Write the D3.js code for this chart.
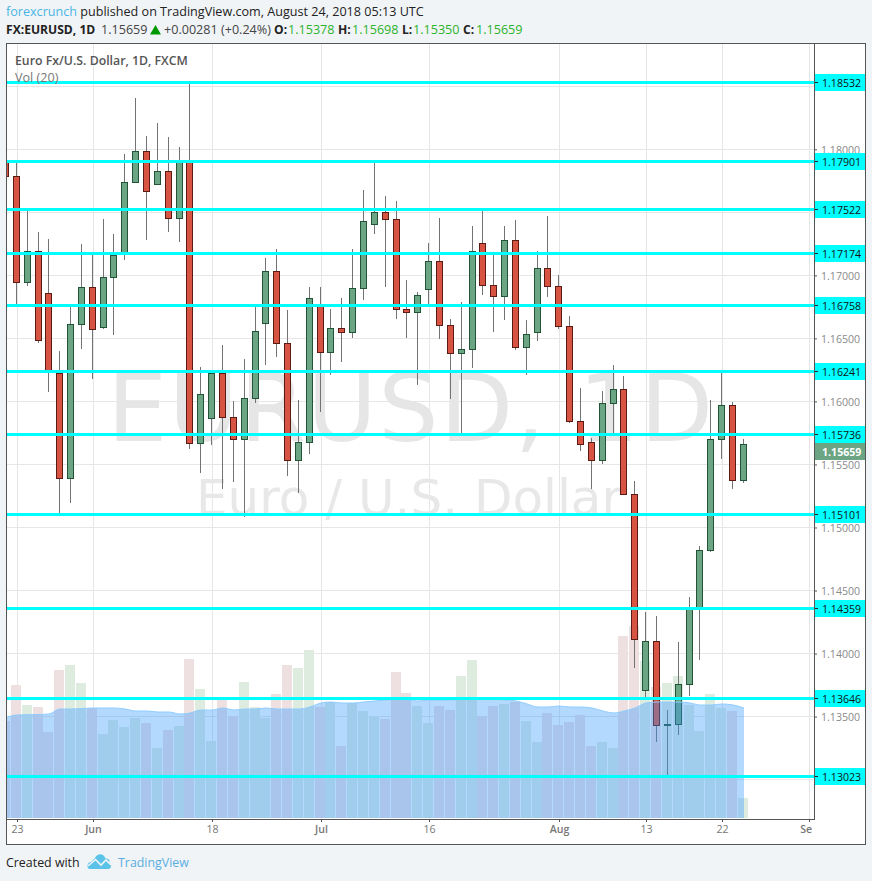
<!DOCTYPE html>
<html>
<head>
<meta charset="utf-8">
<title>EURUSD</title>
<script src="https://cdn.jsdelivr.net/npm/d3@7/dist/d3.min.js"></script>
<style>
    html, body { margin: 0; padding: 0; background: #f1f4f7; }
    svg { display: block; font-family: "Open Sans", sans-serif; }
    .tick text { font-family: "Open Sans", sans-serif; }
</style>
</head>
<body>
<svg id="chart" width="872" height="881"></svg>
<script>
// daily candles, first one is cut off by the left edge of the plot
const opens = [1.17902,1.17788,1.16951,1.17192,1.16859,1.16229,1.15390,1.16613,1.16907,1.16589,1.16986,1.17177,1.17737,1.17987,1.17724,1.17828,1.17455,1.17902,1.15668,1.15867,1.16224,1.15874,1.15700,1.16025,1.16621,1.17034,1.16462,1.15533,1.15676,1.16753,1.16391,1.16581,1.16554,1.16899,1.17407,1.17502,1.17447,1.16732,1.16708,1.16891,1.17113,1.16605,1.16383,1.16414,1.17256,1.16923,1.16835,1.17280,1.16430,1.16549,1.17058,1.16915,1.16597,1.15843,1.15676,1.15533,1.15986,1.16097,1.15263,1.13707,1.14096,1.13437,1.13445,1.13762,1.14371,1.14818,1.15700,1.15970,1.15378]
const highs = [1.17917,1.17909,1.17512,1.17343,1.17288,1.16401,1.16753,1.17250,1.17163,1.17449,1.17330,1.17965,1.18410,1.18108,1.18209,1.18100,1.18021,1.18521,1.16274,1.16234,1.16449,1.16004,1.16337,1.16753,1.17139,1.17211,1.16726,1.16012,1.16909,1.16909,1.16734,1.16822,1.17211,1.17679,1.17891,1.17632,1.17592,1.16965,1.16869,1.17258,1.17457,1.16655,1.16788,1.17393,1.17512,1.17163,1.17393,1.17441,1.16647,1.17195,1.17473,1.17004,1.16679,1.16107,1.15710,1.16083,1.16290,1.16202,1.15369,1.14329,1.14297,1.13551,1.14090,1.14448,1.14853,1.16012,1.16229,1.15994,1.15698]
const lows = [1.17782,1.16766,1.16919,1.16467,1.16078,1.15115,1.15192,1.16419,1.16181,1.16578,1.16530,1.17118,1.17729,1.17277,1.17724,1.17340,1.17261,1.15625,1.15435,1.15657,1.15308,1.15363,1.15085,1.15990,1.16292,1.16356,1.15411,1.15276,1.15585,1.15919,1.16213,1.16316,1.16506,1.16806,1.17332,1.16911,1.16657,1.16506,1.16133,1.16774,1.16496,1.16022,1.15747,1.16266,1.16848,1.16554,1.16649,1.16409,1.16213,1.16483,1.16832,1.16578,1.15832,1.15609,1.15308,1.15504,1.15747,1.15263,1.13884,1.13656,1.13296,1.13029,1.13354,1.13662,1.13948,1.14807,1.15541,1.15308,1.15350]
const closes = [1.17788,1.16951,1.17192,1.16486,1.16250,1.15390,1.16613,1.16907,1.16573,1.16986,1.17163,1.17740,1.17987,1.17666,1.17828,1.17455,1.17902,1.15668,1.16057,1.16224,1.15874,1.15700,1.16025,1.16557,1.17034,1.16462,1.15533,1.15676,1.16819,1.16391,1.16581,1.16554,1.16899,1.17431,1.17502,1.17447,1.16732,1.16708,1.16843,1.17113,1.16605,1.16383,1.16414,1.17192,1.16923,1.16835,1.17280,1.16430,1.16533,1.17058,1.16915,1.16597,1.15843,1.15660,1.15533,1.15986,1.16097,1.15263,1.14112,1.14096,1.13437,1.13445,1.13762,1.14371,1.14818,1.15700,1.15970,1.15374,1.15659]

const volumes = [97,133,113,111,86,148,153,135,110,84,98,91,100,95,70,88,92,159,129,77,118,102,136,111,100,124,153,150,168,111,116,72,115,107,102,99,146,125,112,95,112,108,142,158,102,112,114,116,97,76,105,93,96,103,72,76,70,182,192,157,131,135,142,113,87,124,110,107,20]
const volumeAvg = [100.5,103,103.3,103.5,104,109,109,109.5,110,110,110,109,107,107,106,106,104,105,108,108,110,108,109,109,110,109,109,109,111,115,116,115,115,116,117,118,119,118,117,118,118,118,119,120,120,119,118,117,114,111,111,112,111,111,110,107,105,107,110,115,116,116,116,115,113,113,114,113,110]

const priceTicks = [1.13,1.135,1.14,1.145,1.15,1.155,1.16,1.165,1.17,1.175,1.18,1.185]
// these three sit fully behind a level label, the picture never shows them
const hiddenPriceTicks = [1.13,1.175,1.185]
const levels = [1.18532,1.17901,1.17522,1.17174,1.16758,1.16241,1.15736,1.15101,1.14359,1.13646,1.13023]
const lastPrice = 1.15659

const timeTickBars = [1,8,19,29,39,51,59,66,74]
const timeTickLabels = ['23','Jun','18','Jul','16','Aug','13','22','Sep']

const upColor = '#6ba583', upBorder = '#225437'
const downColor = '#d75442', downBorder = '#5b1a13'
const wickColor = '#737375'
const gridColor = '#e6e6e6'
const frameColor = '#555555'
const levelColor = '#00ffff'

const plot = {left: 7, right: 814, top: 44, bottom: 819}

const svg = d3.select('#chart')

// scales
const xScale = d3.scaleLinear().domain([0, 68]).rangeRound([4.95, 742.75])
const xTickScale = d3.scaleLinear().domain([0, 68]).rangeRound([5.95, 743.75])
const yScale = d3.scaleLinear().domain([1.13, 1.18]).range([779.6, 149.3])
const volScale = d3.scaleLinear().domain([0, 192]).range([818, 626])
const snap = (v) => Math.floor(v) + 0.5

// header and footer text
const header = svg.append('g').attr('font-size', 12.6)
const line1 = header.append('text').attr('x', 6).attr('y', 16).attr('fill', '#222')
line1.append('tspan').attr('fill', '#4ab4e6').text('forexcrunch')
line1.append('tspan').text(' published on TradingView.com, August 24, 2018 05:13 UTC')

const valueGreen = '#2bb32b'
const headerPieces = [
    {x: 6, text: 'FX:EURUSD, 1D', bold: true, fill: '#222'},
    {x: 101, text: '1.15659', fill: '#444'},
    {x: 164, text: '+0.00281 (+0.24%)', fill: '#444'},
    {x: 274, text: 'O:', bold: true, fill: '#222'},
    {x: 288, text: '1.15378', fill: valueGreen},
    {x: 338, text: 'H:', bold: true, fill: '#222'},
    {x: 352, text: '1.15698', fill: valueGreen},
    {x: 402, text: 'L:', bold: true, fill: '#222'},
    {x: 413, text: '1.15350', fill: valueGreen},
    {x: 463, text: 'C:', bold: true, fill: '#222'},
    {x: 476, text: '1.15659', fill: valueGreen},
]
header.selectAll('.piece')
    .data(headerPieces)
    .join('text')
    .attr('class', 'piece')
    .attr('x', d => d.x)
    .attr('y', 34)
    .attr('fill', d => d.fill)
    .attr('font-size', d => d.bold ? 12.1 : 12.6)
    .attr('font-weight', d => d.bold ? 700 : 400)
    .text(d => d.text)
header.append('path').attr('d', 'M150 34.5 L155.5 25 L161 34.5 Z').attr('fill', '#009900')

svg.append('text').attr('x', 6).attr('y', 867).attr('font-size', 12.4).attr('fill', '#222').text('Created with')
svg.append('text').attr('x', 118).attr('y', 867).attr('font-size', 12.4).attr('fill', '#5aaedf').text('TradingView')
// logo
const logo = svg.append('g')
logo.append('path').attr('fill', '#5cc3e8')
    .attr('d', 'M90 869 C86 869 87 862 91 862 L95 858 C97 853 104 853 105 858 C110 859 110 861 109 862 C112 864 112 869 108 869 Z')
logo.append('path').attr('fill', 'none').attr('stroke', '#f1f4f7').attr('stroke-width', 1.6)
    .attr('d', 'M88 866 L95.5 859.5 L101 865 L106 860 L111 865')

// plot background and clip
svg.append('rect')
    .attr('x', 6.5).attr('y', 43.5).attr('width', 859).attr('height', 801)
    .attr('fill', '#fff').attr('stroke', frameColor)

const defs = svg.append('defs')
defs.append('clipPath').attr('id', 'plot-clip').append('rect')
    .attr('x', plot.left).attr('y', plot.top)
    .attr('width', plot.right - plot.left).attr('height', plot.bottom - plot.top)
defs.append('clipPath').attr('id', 'time-clip').append('rect')
    .attr('x', plot.left).attr('y', plot.bottom)
    .attr('width', plot.right - plot.left - 2).attr('height', 24)

const chart = svg.append('g').attr('clip-path', 'url(#plot-clip)')

// grid
chart.append('g').selectAll('line')
    .data(priceTicks)
    .join('line')
    .attr('x1', plot.left).attr('x2', plot.right)
    .attr('y1', d => snap(yScale(d))).attr('y2', d => snap(yScale(d)))
    .attr('stroke', gridColor)
chart.append('g').selectAll('line')
    .data(timeTickBars)
    .join('line')
    .attr('x1', d => xTickScale(d) + 0.5).attr('x2', d => xTickScale(d) + 0.5)
    .attr('y1', plot.top).attr('y2', plot.bottom)
    .attr('stroke', gridColor)

// watermark
chart.append('text')
    .attr('x', 411).attr('y', 441)
    .attr('text-anchor', 'middle')
    .attr('font-family', '"DejaVu Sans", sans-serif')
    .attr('font-size', 95)
    .attr('letter-spacing', 1.5)
    .attr('fill', '#e6e6e6')
    .text('EURUSD, 1D')
chart.append('text')
    .attr('x', 409).attr('y', 515)
    .attr('text-anchor', 'middle')
    .attr('font-family', '"DejaVu Sans", sans-serif')
    .attr('font-size', 50)
    .attr('fill', '#e8e8e8')
    .text('Euro / U.S. Dollar')

// volume bars
const isUp = (i) => closes[i] >= opens[i]
chart.append('g').selectAll('rect')
    .data(volumes)
    .join('rect')
    .attr('x', (d, i) => xScale(i) - 5)
    .attr('width', 10)
    .attr('y', d => volScale(d))
    .attr('height', d => volScale(0) - volScale(d))
    .attr('fill', (d, i) => isUp(i) ? '#deecdf' : '#eee0e0')

// candles
const candles = chart.append('g').selectAll('g')
    .data(opens)
    .join('g')
candles.append('line')
    .attr('x1', (d, i) => xScale(i) + 0.5).attr('x2', (d, i) => xScale(i) + 0.5)
    .attr('y1', (d, i) => Math.round(yScale(highs[i])))
    .attr('y2', (d, i) => Math.round(yScale(lows[i])))
    .attr('stroke', wickColor)
candles.append('rect')
    .attr('x', (d, i) => xScale(i) - 2.5)
    .attr('width', 6)
    .attr('y', (d, i) => Math.round(yScale(Math.max(opens[i], closes[i]))) + 0.5)
    .attr('height', (d, i) => Math.round(yScale(Math.min(opens[i], closes[i]))) - Math.round(yScale(Math.max(opens[i], closes[i]))))
    .attr('fill', (d, i) => isUp(i) ? upColor : downColor)
    .attr('stroke', (d, i) => isUp(i) ? upBorder : downBorder)

// volume average sits over bars and candles
const avgArea = d3.area()
    .x((d, i) => xScale(i) + 1)
    .y0(volScale(0))
    .y1(d => volScale(d))
    .curve(d3.curveMonotoneX)
chart.append('path')
    .datum(volumeAvg)
    .attr('d', avgArea)
    .attr('fill', '#3399ff')
    .attr('fill-opacity', 0.37)
chart.append('path')
    .datum(volumeAvg)
    .attr('d', avgArea.lineY1())
    .attr('fill', 'none')
    .attr('stroke', '#8fccff')

// support and resistance lines
chart.append('g').selectAll('line')
    .data(levels)
    .join('line')
    .attr('x1', plot.left).attr('x2', plot.right)
    .attr('y1', d => snap(yScale(d))).attr('y2', d => snap(yScale(d)))
    .attr('stroke', levelColor)
    .attr('stroke-width', 3)

// legend
chart.append('text').attr('x', 15).attr('y', 65)
    .attr('font-size', 12.3).attr('font-weight', 600).attr('fill', '#555')
    .text('Euro Fx/U.S. Dollar, 1D, FXCM')
chart.append('text').attr('x', 15).attr('y', 82)
    .attr('font-size', 12.6).attr('fill', '#777')
    .text('Vol (20)')

// axes
const yAxis = d3.axisRight(yScale)
    .tickValues(priceTicks)
    .tickFormat(d => hiddenPriceTicks.includes(d) ? '' : d3.format('.5f')(d))
    .tickSize(3)
    .tickPadding(4)
const yAxisG = svg.append('g')
    .attr('transform', `translate(${plot.right}, 0)`)
    .call(yAxis)
yAxisG.select('.domain').remove()
yAxisG.selectAll('.tick line').attr('stroke', frameColor)
yAxisG.selectAll('.tick text').attr('fill', '#8a8a8a').attr('font-size', 10.6).attr('y', 1)

const xAxis = d3.axisBottom(xTickScale)
    .tickValues(timeTickBars)
    .tickFormat((d, i) => timeTickLabels[i])
    .tickSize(3)
    .tickPadding(3)
const xAxisG = svg.append('g')
    .attr('clip-path', 'url(#time-clip)')
    .append('g')
    .attr('transform', `translate(0, ${plot.bottom})`)
    .call(xAxis)
xAxisG.select('.domain').remove()
xAxisG.selectAll('.tick line').attr('stroke', frameColor)
xAxisG.selectAll('.tick text')
    .attr('fill', '#777')
    .attr('font-size', 10.6)
    .attr('font-weight', (d, i) => ['Jun', 'Jul', 'Aug', 'Sep'].includes(timeTickLabels[i]) ? 600 : 400)

svg.append('line')
    .attr('x1', plot.right + 0.5).attr('x2', plot.right + 0.5)
    .attr('y1', plot.top).attr('y2', plot.bottom + 1)
    .attr('stroke', frameColor)
svg.append('line')
    .attr('x1', plot.left).attr('x2', plot.right + 1)
    .attr('y1', plot.bottom + 0.5).attr('y2', plot.bottom + 0.5)
    .attr('stroke', frameColor)

// labels on the price axis
const priceLabels = svg.append('g').selectAll('g')
    .data(levels)
    .join('g')
    .attr('transform', d => `translate(${plot.right + 1}, ${Math.floor(yScale(d))})`)
priceLabels.append('rect')
    .attr('y', -8).attr('width', 50).attr('height', 17)
    .attr('fill', levelColor)
priceLabels.append('line')
    .attr('x1', 0).attr('x2', 3).attr('y1', 0.5).attr('y2', 0.5)
    .attr('stroke', '#222')
priceLabels.append('text')
    .attr('x', 7).attr('y', 4.5)
    .attr('font-size', 10.6)
    .attr('fill', '#111')
    .text(d => d.toFixed(5))

const lastLabel = svg.append('g')
    .attr('transform', `translate(${plot.right + 1}, ${Math.floor(yScale(lastPrice)) + 7})`)
lastLabel.append('rect')
    .attr('y', -8).attr('width', 50).attr('height', 17)
    .attr('fill', upColor)
lastLabel.append('text')
    .attr('x', 7).attr('y', 4.5)
    .attr('font-size', 10.6)
    .attr('font-weight', 700)
    .attr('fill', '#fff')
    .text(lastPrice.toFixed(5))
</script>
</body>
</html>
